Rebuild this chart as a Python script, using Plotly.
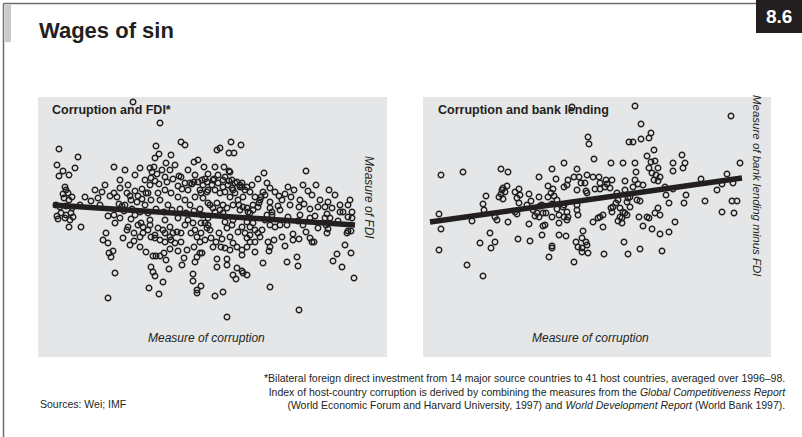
import plotly.graph_objects as go

W, H = 802, 437

# Corruption index (x) vs. measure of FDI (y), one point per country pair
fdi_points = [
    (13.3, 11.3), (16.0, 9.2), (5.9, 6.6), (18.1, 7.3), (18.5, 7.0), (15.6, 6.9), (15.9, 6.1), (15.5, 5.7), (17.1, 6.0), (7.8, 5.8),
    (5.7, 5.0), (7.5, 4.7), (6.3, 4.4), (6.9, 4.0), (5.9, 3.9), (11.4, 4.8), (16.6, 5.2), (19.4, 5.3), (19.8, 5.5), (20.4, 4.8),
    (23.1, 7.3), (24.1, 7.0), (21.7, 6.5), (22.0, 6.7), (22.9, 6.2), (23.4, 6.2), (30.6, 4.4), (26.4, 4.2), (25.8, 3.6),
    (15.0, 4.7), (15.4, 4.8), (15.2, 4.3), (16.2, 4.5), (15.7, 4.1), (16.5, 3.8), (15.1, 3.7), (15.5, 3.4), (15.9, 3.1), (15.0, 3.0),
    (17.3, 3.6), (18.1, 3.8), (18.5, 3.2), (19.2, 3.1), (17.8, 2.9), (18.2, 2.6), (18.8, 2.5), (19.8, 3.3), (20.5, 3.6), (20.3, 3.0),
    (6.5, 2.8), (6.6, 2.5), (6.3, 2.1), (6.8, 2.2), (7.2, 1.8), (6.9, 1.5), (6.4, 1.7), (9.1, 1.4), (11.0, 1.9), (11.4, 2.2),
    (11.7, 1.8), (11.9, 1.1), (12.7, 2.2), (13.5, 2.4), (13.8, 1.9), (14.2, 2.6), (14.6, 2.2), (13.1, 1.5), (13.7, 1.3), (14.2, 1.6),
    (15.1, 1.5), (15.8, 2.2), (16.5, 2.5), (17.1, 2.2), (17.8, 1.8), (18.5, 1.5), (19.5, 1.8), (20.1, 2.2),
    (21.5, 4.8), (22.4, 4.8), (23.0, 4.3), (20.8, 4.1), (21.8, 4.0), (21.4, 3.6), (22.3, 3.5), (22.9, 3.4), (23.5, 3.2), (24.0, 2.8),
    (17.9, 3.9), (16.7, 3.3), (19.0, 3.2), (19.4, 3.3), (26.7, 3.2), (24.2, 3.2), (24.7, 2.8), (27.9, 1.9), (28.8, 2.8), (14.8, 2.2),
    (22.9, 4.4), (22.5, 3.8), (23.2, 3.5), (23.7, 3.3), (24.0, 3.0), (20.2, 3.5), (20.7, 3.3), (21.3, 3.5), (21.8, 3.2), (22.3, 2.8),
    (22.8, 3.0), (23.3, 2.5), (24.2, 2.8), (20.0, 2.5), (20.7, 2.3), (21.5, 2.5), (22.0, 2.2), (22.5, 2.3), (23.0, 1.8), (23.5, 2.2),
    (24.3, 1.8), (25.0, 2.3), (25.5, 1.8), (26.3, 2.3), (26.1, 1.8), (25.9, 1.2), (29.4, 2.5), (29.1, 1.8), (27.0, 1.3), (30.0, 1.5),
    (30.4, 1.1), (29.9, 0.8), (32.9, 2.5), (32.8, 1.3), (32.5, 0.8), (33.2, 0.7), (35.0, 1.5), (34.8, 1.0), (34.3, 0.3), (31.8, 0.8),
    (31.0, 0.6), (23.9, 1.0), (24.3, 0.8), (24.7, 0.7), (25.3, 1.0), (25.8, 0.8), (24.0, 0.5), (24.8, 0.3), (25.3, 0.5), (20.3, 1.7),
    (20.8, 1.2), (21.7, 1.2), (22.3, 1.0), (21.3, 0.7), (22.0, 0.5), (22.7, 0.7), (23.3, 1.0), (27.2, 0.0), (28.8, -0.2), (31.5, -0.1),
    (32.7, 0.1), (33.0, -0.3), (35.2, -0.3),
    (10.5, 3.0), (12.0, 3.5), (12.5, 4.5), (13.5, 4.0), (14.0, 4.7), (14.5, 3.5), (12.8, 3.0), (17.0, 4.5), (17.5, 5.0), (18.8, 4.5),
    (19.5, 4.0), (20.8, 2.5), (12.0, 2.7), (10.2, 2.3), (9.8, 1.7), (8.5, 1.8), (8.0, 1.0), (10.0, 1.0), (12.5, 1.0), (14.5, 1.0),
    (16.0, 1.5), (16.8, 1.0), (19.0, 1.0), (21.0, 1.0),
    (21.2, 3.0), (23.2, 2.7), (24.5, 2.5), (25.2, 3.0), (26.5, 2.0), (27.0, 2.7), (27.5, 2.3), (28.2, 1.5), (29.0, 1.0), (23.8, 1.5),
    (27.0, 0.7), (28.0, 0.5),
    (30.3, 3.0), (31.2, 2.0), (32.0, 1.5), (33.5, 2.0), (34.0, 1.0), (35.2, 0.3),
    (5.7, -0.1), (6.1, 0.2), (6.6, 0.0), (7.1, 0.2), (5.8, -0.4), (6.5, -0.3), (7.0, -0.5), (7.3, -0.2), (6.9, -1.2), (8.1, -1.2),
    (5.6, 1.0), (6.0, 0.8), (6.6, 0.9), (7.2, 0.7), (10.8, -0.1), (11.4, 0.0),
    (11.5, -0.8), (10.6, -1.8), (10.3, -2.5), (10.8, -2.8), (10.9, -3.8), (11.3, -3.6), (11.1, -4.2), (11.5, -5.8), (10.8, -8.3), (12.8, -1.2),
    (13.4, -1.8), (13.4, -2.6), (13.1, -0.4), (13.8, -1.0), (14.6, -3.7), (15.3, -4.1), (15.6, -4.1), (16.4, -3.8), (16.6, -4.5), (15.1, -5.2),
    (15.3, -5.7), (15.5, -6.1), (16.9, -5.4), (16.3, -6.7), (14.9, -7.3), (15.9, -7.9), (14.1, -0.8), (14.8, -1.5), (15.5, -2.0), (16.0, -2.5),
    (16.5, -2.7), (17.1, -2.5), (17.5, -2.8), (18.1, -2.7), (14.3, -1.8), (15.1, -2.2), (15.8, -1.3), (16.5, -1.8), (17.3, -1.8), (18.1, -1.8),
    (18.7, -3.5), (19.4, -3.2), (19.5, -4.7), (19.7, -4.2), (20.0, -3.8), (19.3, -5.9), (19.3, -6.6), (19.7, -7.5), (20.1, -7.1), (19.7, -7.8),
    (19.1, -1.8), (19.5, -1.5), (19.7, -2.2), (20.1, -1.8), (20.5, -2.5), (20.0, -2.7), (19.3, -0.8), (18.8, -0.5), (18.5, -1.0), (20.1, -0.8),
    (12.7, -1.5), (16.0, -4.1), (14.3, -1.2), (15.0, -1.0), (16.3, -1.5), (17.0, -1.2), (17.7, -1.7), (14.0, -2.2), (15.5, -2.3), (17.0, -2.2),
    (12.0, -0.3), (13.5, 0.0), (15.0, -0.5), (16.5, -0.5), (17.8, -0.3),
    (20.2, 0.0), (20.8, -0.3), (20.5, -0.8), (20.8, -1.0), (20.7, -1.3), (21.7, -4.4), (22.7, -4.4), (21.7, -5.2), (22.7, -5.0), (23.7, -5.3),
    (24.2, -5.6), (24.3, -5.8), (24.7, -6.0), (23.3, -6.0), (23.6, -6.4), (26.3, -4.8), (27.0, -3.2), (26.9, -3.6), (27.4, -2.5), (28.7, -4.7),
    (29.7, -4.2), (29.8, -5.1), (29.3, -1.9), (29.3, -2.5), (29.9, -2.4), (27.0, -1.0), (27.5, -1.2), (28.0, -1.0), (28.7, -1.0), (27.0, -7.2),
    (29.9, -9.5), (22.7, -10.2), (21.5, -8.1), (22.3, -7.7), (23.8, -1.7), (24.5, -1.8), (25.0, -2.0), (25.5, -1.5), (25.8, -1.8), (24.7, -2.3),
    (25.5, -2.7), (26.0, -2.2), (22.5, -0.7), (22.7, -1.3), (23.2, -1.0), (23.3, -0.5), (24.2, -1.2), (24.7, -0.7), (25.3, -0.8), (26.2, -1.5),
    (21.1, -2.3), (21.6, -2.7), (21.3, -3.2), (22.1, -3.2), (22.5, -3.3), (23.0, -3.5), (23.3, -2.8), (23.7, -3.2), (24.2, -3.5), (24.7, -3.2),
    (24.2, -4.0), (25.5, -3.7), (25.0, -2.7), (20.2, -3.8), (21.5, 0.3), (22.3, 0.2), (25.0, 0.2), (26.7, 0.0), (27.2, 0.3), (30.0, 0.0),
    (34.0, 0.3), (34.8, -0.2), (32.5, -0.3),
    (31.0, -2.3), (31.2, -2.7), (31.4, -2.7), (32.7, -1.8), (32.8, -1.4), (32.6, -1.0), (34.7, -1.8), (34.8, -1.6), (35.1, -1.6), (33.7, -3.9),
    (33.3, -4.6), (34.2, -5.2), (35.1, -3.8), (35.4, -6.3), (30.3, -1.0), (31.8, -1.3),
    (12.4, 0.4), (13.2, 0.6), (14.0, 0.3), (14.8, 0.2), (15.6, 0.6), (16.4, 0.3), (17.2, 0.5), (18.0, 0.6), (18.6, 0.2), (19.4, 0.4),
    (20.0, 0.6), (12.3, -2.3), (13.0, -3.0), (14.0, -3.2), (17.8, -3.6), (18.4, -4.3), (17.0, -3.4), (18.2, -5.0), (21.0, -1.5), (21.9, -1.8),
    (22.2, -2.4), (23.0, -2.2), (25.0, -1.2), (26.5, -0.5), (26.8, -2.7), (28.2, -2.2), (28.5, -3.1), (29.8, -0.6), (31.0, -0.3), (30.6, -1.7),
    (33.8, -0.6), (34.5, -3.0), (27.8, 0.9), (26.0, 1.5), (28.5, 2.1), (30.8, 2.4), (31.6, 3.0), (13.0, 1.9), (12.2, 0.9), (9.5, 2.5),
]

# Corruption index (x) vs. bank lending minus FDI (y)
bank_points = [
    (18.6, 10.8), (24.9, 10.9), (34.5, 9.9), (25.5, 9.1), (26.5, 8.2), (26.3, 7.7), (25.5, 7.6), (24.3, 7.3), (24.7, 7.3), (20.2, 7.8),
    (20.3, 7.1), (26.8, 6.5), (26.1, 5.9), (20.8, 5.6), (22.5, 5.2), (23.7, 5.2), (24.9, 5.2), (17.8, 5.2), (5.5, 4.0), (7.7, 4.3),
    (11.5, 4.6), (12.2, 4.3), (16.6, 4.6), (29.6, 6.0), (29.9, 5.2), (29.7, 4.7), (28.7, 5.2), (28.7, 4.4), (35.4, 5.2),
    (26.5, 5.3), (26.9, 5.4), (26.3, 4.7), (27.2, 4.7), (26.6, 4.2), (27.0, 4.0), (27.4, 3.8), (26.8, 3.5), (27.2, 3.4), (25.0, 4.3),
    (19.1, 4.6), (20.1, 4.0), (18.8, 3.8), (19.3, 3.8), (18.2, 3.5), (18.1, 3.0), (17.8, 2.8), (19.9, 3.2), (19.1, 2.5), (20.0, 2.4),
    (15.3, 3.8), (17.0, 3.6), (20.7, 3.8), (21.3, 3.8), (22.0, 3.5), (22.6, 3.5), (21.4, 3.2), (22.1, 3.1), (20.9, 2.6), (21.4, 2.6),
    (20.1, 2.2), (22.4, 2.7), (21.9, 2.8), (19.5, 3.2), (23.9, 3.4), (24.9, 3.5), (25.2, 3.1), (25.7, 3.0), (24.7, 2.8), (23.9, 2.5),
    (24.4, 1.8), (25.1, 1.5), (25.4, 1.4), (31.5, 3.6), (34.1, 4.1), (33.6, 3.1), (33.1, 2.5), (34.7, 3.2), (27.9, 2.8), (28.7, 2.6),
    (28.0, 2.0), (28.3, 1.2), (30.0, 2.0), (29.8, 1.2), (31.9, 1.4), (34.6, 1.4), (35.1, 1.4), (34.8, 0.2), (33.6, 0.3), (23.1, 2.2),
    (23.2, 1.5), (22.7, 0.8), (23.0, 1.2), (23.4, 0.7), (23.7, 0.3), (24.1, 1.3), (24.2, 1.7), (24.4, 0.8), (27.2, 0.7), (27.4, 0.0),
    (23.4, -0.2), (24.1, 0.0), (21.7, 0.0), (21.4, -0.2), (26.1, -0.2), (25.3, -0.2), (22.5, 0.7),
    (12.1, 2.9), (11.7, 2.7), (11.6, 2.5), (11.5, 2.1), (11.3, 1.8), (11.9, 2.3), (11.7, 1.6), (10.0, 1.9), (9.7, 1.1), (9.8, 0.5),
    (13.3, 2.6), (12.9, 2.3), (13.4, 2.0), (13.1, 1.7), (14.3, 2.1), (14.5, 1.4), (14.1, 1.0), (14.7, 0.5), (15.1, 0.2), (14.9, -0.1),
    (16.2, 2.9), (16.7, 2.6), (16.5, 2.2), (16.8, 1.9), (17.1, 1.5), (16.2, 1.8), (16.6, 1.1), (17.1, 0.6), (17.7, 0.8), (18.1, 0.3),
    (17.3, 0.0), (17.8, -0.2), (18.2, -0.2), (5.3, 0.1), (15.4, 0.9), (15.7, 0.2), (15.3, -0.2), (19.1, 1.0), (19.1, 0.5), (19.2, 0.0),
    (13.3, 1.2), (12.9, 0.3), (15.3, 1.8), (15.6, 1.0), (16.0, 0.2), (17.8, 1.0), (18.1, -0.5),
    (5.5, -1.4), (5.3, -3.5), (8.1, -5.0), (9.7, -6.1), (8.6, -0.6), (10.4, -1.8), (9.4, -2.8), (10.9, -2.7), (10.5, -3.3), (11.1, -0.5),
    (10.9, -0.2), (12.2, -0.7), (13.2, -2.4), (14.4, -2.6), (14.3, -0.9), (15.6, -2.0), (15.7, -1.1), (15.9, -1.0), (16.6, -3.1), (16.6, -3.3),
    (16.3, -4.2), (17.3, -2.0), (18.0, -2.1), (17.3, -0.8), (16.6, -0.2), (13.1, 0.1),
    (19.7, -1.6), (19.6, -2.3), (19.0, -2.7), (19.2, -3.2), (19.6, -3.3), (20.1, -3.0), (19.6, -3.7), (20.2, -3.8), (20.0, -2.7), (18.8, -4.7),
    (21.7, -1.2), (21.8, -3.9), (20.7, -0.7), (21.2, -0.3), (22.6, 0.3), (23.2, -0.6), (23.6, -0.8), (23.6, -0.3), (23.9, 0.2), (23.8, -2.7),
    (24.2, -3.9), (25.4, -3.4), (25.7, -1.1), (26.3, -0.3), (26.6, -1.4), (26.9, 0.2), (27.4, -1.9), (28.3, -1.7), (28.9, -0.7), (27.6, -3.6),
]

# Fitted trend lines (end points in data units)
fdi_trend_x = [5.3, 35.5]
fdi_trend_y = [1.0, -1.0]
bank_trend_x = [4.4, 35.6]
bank_trend_y = [-0.7, 3.7]

left_x_range = [3.8, 38.7]
right_x_range = [3.7, 38.5]
y_range = [-14.2, 11.8]

PANEL = "#e5e6e7"
INK = "#231f20"
FONT = "Liberation Sans, Arial, sans-serif"


def fx(p):
    return p / W


def fy(p):
    return 1 - p / H


marker = dict(symbol="circle-open", size=5.6, color=INK, line=dict(width=1.4, color=INK))

fig = go.Figure()
fig.add_trace(go.Scatter(
    x=[p[0] for p in fdi_points], y=[p[1] for p in fdi_points],
    mode="markers", marker=marker, xaxis="x", yaxis="y", hoverinfo="skip",
))
fig.add_trace(go.Scatter(
    x=fdi_trend_x, y=fdi_trend_y, mode="lines",
    line=dict(color=INK, width=5.5), xaxis="x", yaxis="y", hoverinfo="skip",
))
fig.add_trace(go.Scatter(
    x=[p[0] for p in bank_points], y=[p[1] for p in bank_points],
    mode="markers", marker=marker, xaxis="x2", yaxis="y2", hoverinfo="skip",
))
fig.add_trace(go.Scatter(
    x=bank_trend_x, y=bank_trend_y, mode="lines",
    line=dict(color=INK, width=5.5), xaxis="x2", yaxis="y2", hoverinfo="skip",
))

hidden = dict(visible=False, showgrid=False, zeroline=False, fixedrange=True)
panel_y = [fy(357), fy(97)]

shapes = [
    # panel backgrounds
    dict(type="rect", xref="paper", yref="paper", x0=fx(38), x1=fx(387), y0=fy(357), y1=fy(97),
         fillcolor=PANEL, line=dict(width=0), layer="below"),
    dict(type="rect", xref="paper", yref="paper", x0=fx(423), x1=fx(771), y0=fy(357), y1=fy(97),
         fillcolor=PANEL, line=dict(width=0), layer="below"),
    # page frame
    dict(type="line", xref="paper", yref="paper", x0=fx(3.5), x1=fx(757), y0=fy(3.5), y1=fy(3.5),
         line=dict(color="#6d6e70", width=1.5)),
    dict(type="line", xref="paper", yref="paper", x0=fx(3.5), x1=fx(3.5), y0=fy(3.5), y1=0,
         line=dict(color="#6d6e70", width=1.5)),
    dict(type="rect", xref="paper", yref="paper", x0=fx(5), x1=fx(11), y0=fy(42), y1=fy(4.5),
         fillcolor="#c9cacc", line=dict(width=0)),
    # chart number box
    dict(type="rect", xref="paper", yref="paper", x0=fx(756), x1=1, y0=fy(33), y1=1,
         fillcolor=INK, line=dict(width=0)),
]

annotations = [
    dict(text="<b>Wages of sin</b>", x=fx(37), y=fy(31), xanchor="left", yanchor="middle",
         font=dict(size=22, color=INK)),
    dict(text="<b>8.6</b>", x=fx(779), y=fy(17), xanchor="center", yanchor="middle",
         font=dict(size=19, color="white")),
    dict(text="<b>Corruption and FDI*</b>", x=fx(50), y=fy(110), xanchor="left", yanchor="middle",
         font=dict(size=12.5, color=INK)),
    dict(text="<b>Corruption and bank lending</b>", x=fx(436), y=fy(110), xanchor="left", yanchor="middle",
         font=dict(size=12.5, color=INK)),
    dict(text="<i>Measure of corruption</i>", x=fx(206), y=fy(338), xanchor="center", yanchor="middle",
         font=dict(size=12, color=INK)),
    dict(text="<i>Measure of corruption</i>", x=fx(590), y=fy(338), xanchor="center", yanchor="middle",
         font=dict(size=12, color=INK)),
    dict(text="<i>Measure of FDI</i>", x=fx(369), y=fy(197), xanchor="center", yanchor="middle",
         textangle=90, font=dict(size=12, color=INK)),
    dict(text="<i>Measure of bank lending minus FDI</i>", x=fx(757), y=fy(186), xanchor="center",
         yanchor="middle", textangle=90, font=dict(size=11.5, color=INK)),
    dict(text="*Bilateral foreign direct investment from 14 major source countries to 41 host countries, averaged over 1996–98.<br>"
              "Index of host-country corruption is derived by combining the measures from the <i>Global Competitiveness Report</i><br>"
              "(World Economic Forum and Harvard University, 1997) and <i>World Development Report</i> (World Bank 1997).",
         x=fx(788), y=fy(391), xanchor="right", yanchor="middle", align="right",
         font=dict(size=10.5, color=INK)),
    dict(text="Sources: Wei; IMF", x=fx(38), y=fy(404), xanchor="left", yanchor="middle",
         font=dict(size=10.5, color=INK)),
]
for a in annotations:
    a.update(xref="paper", yref="paper", showarrow=False)

fig.update_layout(
    width=W, height=H,
    margin=dict(l=0, r=0, t=0, b=0),
    paper_bgcolor="white",
    plot_bgcolor=PANEL,
    showlegend=False,
    font=dict(family=FONT, color=INK),
    xaxis=dict(domain=[fx(38), fx(387)], range=left_x_range, **hidden),
    yaxis=dict(domain=panel_y, range=y_range, **hidden),
    xaxis2=dict(domain=[fx(423), fx(771)], range=right_x_range, anchor="y2", **hidden),
    yaxis2=dict(domain=panel_y, range=y_range, anchor="x2", **hidden),
    shapes=shapes,
    annotations=annotations,
)

fig.write_html("out.html", config=dict(displayModeBar=False))
